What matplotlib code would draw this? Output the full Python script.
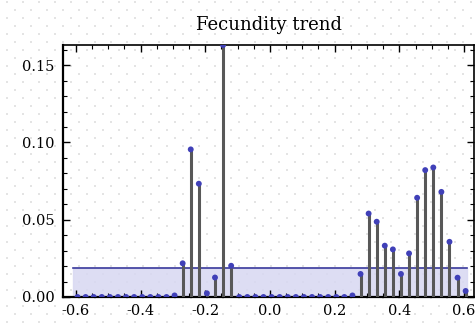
import numpy as np
import matplotlib.pyplot as plt
from matplotlib.ticker import MultipleLocator, FormatStrFormatter

# sample positions and fecundity values
x_vals = [-0.595, -0.570, -0.545, -0.520, -0.495, -0.470, -0.445, -0.420, -0.395,
          -0.370, -0.345, -0.320, -0.295, -0.270, -0.245, -0.220, -0.195, -0.170,
          -0.145, -0.120, -0.095, -0.070, -0.045, -0.020, 0.005, 0.030, 0.055,
          0.080, 0.105, 0.130, 0.155, 0.180, 0.205, 0.230, 0.255, 0.280, 0.305,
          0.330, 0.355, 0.380, 0.405, 0.430, 0.455, 0.480, 0.505, 0.530, 0.555,
          0.580, 0.605]
fecundity = [0.0, 0.0, 0.0, 0.0, 0.0, 0.0, 0.0, 0.0, 0.0,
             0.0, 0.0, 0.0, 0.001, 0.0218, 0.0955, 0.0733, 0.0024, 0.0126,
             0.163, 0.0202, 0.0, 0.0, 0.0, 0.0, 0.0, 0.0, 0.0,
             0.0, 0.0, 0.0, 0.0, 0.0, 0.0, 0.0, 0.001, 0.0149, 0.054,
             0.0487, 0.0332, 0.0308, 0.0149, 0.0282, 0.0642, 0.0821, 0.0838, 0.068, 0.0357,
             0.0125, 0.0039]
threshold = 0.019
band_range = (-0.61, 0.61)

plt.rcParams['font.family'] = ['DejaVu Serif']

W, H = 475, 329
fig = plt.figure(figsize=(W / 100, H / 100), dpi=100)

# dotted page background
bg = fig.add_axes([0, 0, 1, 1], zorder=-5)
bg.set_xlim(0, W)
bg.set_ylim(H, 0)
bg.axis('off')
gx, gy = np.meshgrid(np.arange(7, W, 16.0), np.arange(2, H, 8.0))
shift = (np.arange(gy.shape[0]) % 2)[:, None] * 8.0
bg.scatter((gx + shift).ravel(), gy.ravel(), s=1.2, color='#c4c4c4',
           edgecolors='none')

ax = fig.add_axes([0.1326, 0.0973, 0.8654, 0.7657])
ax.patch.set_alpha(0)

# threshold band
ax.fill_between(band_range, 0, threshold, color='#d8d8f2', alpha=0.85, zorder=1)
ax.plot(band_range, [threshold, threshold], color='#3a3a9c', lw=1.2, zorder=2)

# stems and points
ax.vlines(x_vals, 0, fecundity, color='#585858', lw=2.2, zorder=3)
ax.scatter(x_vals, fecundity, s=18, color='#4040b8', zorder=4,
           edgecolors='none')

ax.set_xlim(-0.640, 0.631)
ax.set_ylim(0, 0.163)
ax.xaxis.set_major_locator(MultipleLocator(0.2))
ax.xaxis.set_minor_locator(MultipleLocator(0.05))
ax.yaxis.set_major_locator(MultipleLocator(0.05))
ax.yaxis.set_minor_locator(MultipleLocator(0.01))
ax.yaxis.set_major_formatter(FormatStrFormatter('%.2f'))
ax.xaxis.set_major_formatter(FormatStrFormatter('%.1f'))
ax.tick_params(which='both', direction='in', top=True, right=True,
               labelsize=10.5)
ax.tick_params(axis='y', pad=6)
ax.tick_params(axis='x', pad=5)
ax.tick_params(which='major', length=5, width=1)
ax.tick_params(which='minor', length=3, width=0.8)
for s in ['left', 'bottom']:
    ax.spines[s].set_linewidth(1.6)
for s in ['top', 'right']:
    ax.spines[s].set_linewidth(1.2)

ax.set_title('Fecundity trend', fontsize=13, pad=11)

fig.savefig('out.png', dpi=100)
